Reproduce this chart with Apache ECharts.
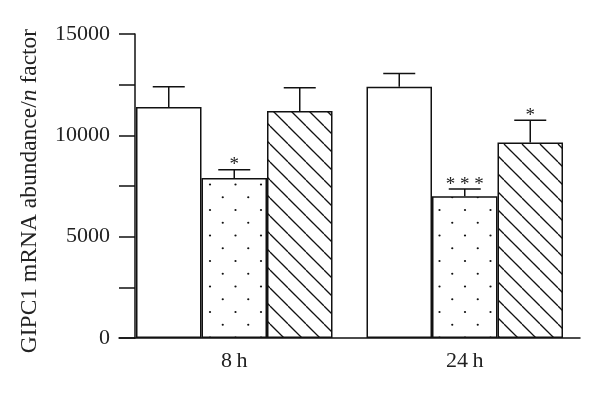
<!DOCTYPE html>
<html><head><meta charset="utf-8">
<script src="https://cdn.jsdelivr.net/npm/echarts@6/dist/echarts.min.js"></script>
<style>html,body{margin:0;padding:0;background:#fff}#c{width:600px;height:396px}</style>
</head><body><div id="c"></div>
<script>
// ---- data ----
var categories = ['8\u2009h', '24\u2009h'];
var controlValues = [11400, 12400];
var dottedValues = [7900, 7000];
var hatchedValues = [11200, 9650];
var controlErr = [1000, 650];
var dottedErr = [400, 350];
var hatchedErr = [1150, 1100];
var controlStars = ['', ''];
var dottedStars = ['*', '* * *'];
var hatchedStars = ['', '*'];
var yTicks = [0, 5000, 10000, 15000];

// ---- styles ----
var FONT = 'Liberation Serif';
var FS = 22;
var BAR_W = 65.5;

function dotPattern() {
  var c = document.createElement('canvas');
  c.width = 51; c.height = 51;
  var g = c.getContext('2d');
  g.fillStyle = '#fff'; g.fillRect(0, 0, 51, 51);
  g.fillStyle = '#111';
  var pts = [[6,6],[31.5,6],[18.75,18.75],[44.25,18.75],[6,31.5],[31.5,31.5],[18.75,44.25],[44.25,44.25]];
  pts.forEach(function (p) { g.beginPath(); g.arc(p[0], p[1], 1.1, 0, Math.PI * 2); g.fill(); });
  return c;
}
function hatchPattern() {
  var s = 18;
  var c = document.createElement('canvas');
  c.width = s; c.height = s;
  var g = c.getContext('2d');
  g.fillStyle = '#fff'; g.fillRect(0, 0, s, s);
  g.strokeStyle = '#111'; g.lineWidth = 1.3;
  [-s, 0, s].forEach(function (k) { g.beginPath(); g.moveTo(k, 0); g.lineTo(k + s, s); g.stroke(); });
  return c;
}

var groups = [
  {values: controlValues, err: controlErr, stars: controlStars},
  {values: dottedValues, err: dottedErr, stars: dottedStars},
  {values: hatchedValues, err: hatchedErr, stars: hatchedStars}
];
var errData = [];
groups.forEach(function (gp, gi) {
  gp.values.forEach(function (v, ci) {
    errData.push([ci, v, v + gp.err[ci], gi, gp.stars[ci]]);
  });
});

var barStyle = {borderColor: '#111', borderWidth: 1.5};
var chart = echarts.init(document.getElementById('c'), null, {renderer: 'canvas'});
chart.setOption({
  animation: false,
  backgroundColor: '#fff',
  grid: {left: 119, right: 20, top: 34, bottom: 58, containLabel: false},
  xAxis: {
    type: 'category', data: categories,
    axisLine: {lineStyle: {color: '#111', width: 1.5}},
    axisTick: {show: false},
    axisLabel: {color: '#222', fontFamily: FONT, fontSize: FS, margin: 12}
  },
  yAxis: {
    type: 'value', min: 0, max: 15000, interval: 2500, offset: -16,
    name: 'GIPC1 mRNA abundance/{i|n} factor',
    nameLocation: 'middle', nameGap: 93,
    nameTextStyle: {color: '#222', fontFamily: FONT, fontSize: 23.5, padding: [0, 10, 0, 0],
      rich: {i: {fontStyle: 'italic', fontFamily: FONT, fontSize: 23.5, color: '#222'}}},
    axisLine: {show: true, lineStyle: {color: '#111', width: 1.5}},
    axisTick: {show: true, inside: false, length: 16, lineStyle: {color: '#111', width: 1.5}},
    axisLabel: {color: '#222', fontFamily: FONT, fontSize: FS, margin: 25,
      formatter: function (v) { return yTicks.indexOf(v) >= 0 ? String(v) : ''; }},
    splitLine: {show: false}
  },
  series: [
    {type: 'bar', data: controlValues, barWidth: BAR_W, barGap: '0%', itemStyle: Object.assign({color: '#fff'}, barStyle)},
    {type: 'bar', data: dottedValues, barWidth: BAR_W, barGap: '0%', itemStyle: Object.assign({color: {image: dotPattern(), repeat: 'repeat'}}, barStyle)},
    {type: 'bar', data: hatchedValues, barWidth: BAR_W, barGap: '0%', itemStyle: Object.assign({color: {image: hatchPattern(), repeat: 'repeat'}}, barStyle)},
    {
      type: 'custom', data: errData, z: 10,
      renderItem: function (params, api) {
        var ci = api.value(0), gi = api.value(3);
        var base = api.coord([ci, api.value(1)]);
        var top = api.coord([ci, api.value(2)]);
        var x = base[0] + (gi - 1) * BAR_W;
        var half = 16;
        var star = errData[params.dataIndex][4];
        var children = [
          {type: 'line', shape: {x1: x, y1: base[1], x2: x, y2: top[1]}, style: {stroke: '#111', lineWidth: 1.5}},
          {type: 'line', shape: {x1: x - half, y1: top[1], x2: x + half, y2: top[1]}, style: {stroke: '#111', lineWidth: 1.5}}
        ];
        if (star) {
          children.push({type: 'text', style: {text: star, x: x, y: top[1] + 5, align: 'center', verticalAlign: 'bottom',
            fill: '#222', font: '19px "' + FONT + '"'}});
        }
        return {type: 'group', children: children};
      }
    }
  ]
});
</script></body></html>
